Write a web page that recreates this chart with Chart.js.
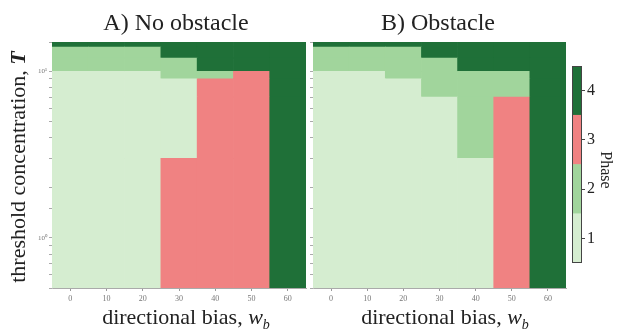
<!DOCTYPE html>
<html>
<head>
<meta charset="utf-8">
<script src="https://cdn.jsdelivr.net/npm/chart.js@4.4.1/dist/chart.umd.min.js"></script>
<style>
  html, body { margin:0; padding:0; background:#fff; }
  body { width:618px; height:334px; position:relative; overflow:hidden; font-family:"Liberation Serif", serif; color:#222; }
  canvas { position:absolute; top:0; }
  .txt { position:absolute; white-space:nowrap; line-height:1; }
  .title { font-size:24px; top:10px; transform:translateX(-50%); }
  .xlab { font-size:22px; top:306px; transform:translateX(-50%); }
  .xlab sub { font-size:14px; vertical-align:-5px; line-height:0; }
</style>
</head>
<body>
<canvas id="chartA" width="310" height="334" style="left:0px"></canvas>
<canvas id="chartB" width="270" height="334" style="left:300px"></canvas>
<canvas id="chartC" width="46" height="334" style="left:572px"></canvas>

<div class="txt title" style="left:176px">A) No obstacle</div>
<div class="txt title" style="left:438px">B) Obstacle</div>
<div class="txt xlab" style="left:186px">directional bias, <i>w</i><sub><i>b</i></sub></div>
<div class="txt xlab" style="left:445px">directional bias, <i>w</i><sub><i>b</i></sub></div>
<div class="txt" style="font-size:22px; width:300px; text-align:center; left:-132px; top:156px; transform:rotate(-90deg);">threshold concentration, <b><i>T</i></b></div>
<div class="txt" style="font-size:16px; font-weight:normal; color:#222; width:60px; text-align:center; left:576px; top:162px; transform:rotate(90deg);">Phase</div>

<script>
// ---- data ----
const xLabels = ['0', '10', '20', '30', '40', '50', '60'];          // directional bias w_b
const tEdges = [0.5, 3, 7, 9, 10, 12, 14, 15];                      // threshold concentration cell edges
// phase per cell, rows from bottom (T low) to top (T high), columns = xLabels
const phaseA = [
  [1, 1, 1, 3, 3, 3, 4],
  [1, 1, 1, 1, 3, 3, 4],
  [1, 1, 1, 1, 3, 3, 4],
  [1, 1, 1, 2, 2, 3, 4],
  [2, 2, 2, 2, 4, 4, 4],
  [2, 2, 2, 4, 4, 4, 4],
  [4, 4, 4, 4, 4, 4, 4]
];
const phaseB = [
  [1, 1, 1, 1, 1, 3, 4],
  [1, 1, 1, 1, 2, 3, 4],
  [1, 1, 1, 2, 2, 2, 4],
  [1, 1, 2, 2, 2, 2, 4],
  [2, 2, 2, 2, 4, 4, 4],
  [2, 2, 2, 4, 4, 4, 4],
  [4, 4, 4, 4, 4, 4, 4]
];
const phaseTicks = [1, 2, 3, 4];
const phaseEdges = [0.5, 1.5, 2.5, 3.5, 4.5];
const yTickLabels = { 1: '10\u2070', 10: '10\u00B9' };

const phaseColors = { 1: '#d5edd0', 2: '#a1d59c', 3: '#f08282', 4: '#1f7038' };

function heatDatasets(phases) {
  return phases.map((row, r) => ({
    data: row.map(() => [tEdges[r], tEdges[r + 1]]),
    backgroundColor: row.map(p => phaseColors[p]),
    borderWidth: 0,
    barPercentage: 1,
    categoryPercentage: 1,
    grouped: false
  }));
}

function yLabel(v) {
  for (const k in yTickLabels) { if (Math.abs(v - Number(k)) < 1e-9) return yTickLabels[k]; }
  return '';
}

function heatConfig(phases, axisWidth, showYLabels) {
  return {
    type: 'bar',
    data: { labels: xLabels, datasets: heatDatasets(phases) },
    options: {
      responsive: false,
      animation: false,
      events: [],
      layout: { padding: { top: 42, right: 4, left: 0, bottom: 0 } },
      plugins: { legend: { display: false }, tooltip: { enabled: false }, title: { display: false } },
      scales: {
        x: {
          type: 'category',
          offset: true,
          grid: { display: true, drawOnChartArea: false, drawTicks: true, tickLength: 3, color: '#999', offset: false },
          border: { display: true, color: '#aaa', width: 1 },
          ticks: { font: { family: 'Liberation Serif', size: 8 }, color: '#777', padding: 3, maxRotation: 0, autoSkip: false },
          afterFit(s) { s.height = 46; }
        },
        y: {
          type: 'logarithmic',
          min: 0.5,
          max: 15,
          grid: { display: true, drawOnChartArea: false, drawTicks: true, tickLength: 3, color: '#aaa' },
          border: { display: true, color: '#bbb', width: 1 },
          ticks: {
            autoSkip: false,
            font: { family: 'Liberation Serif', size: 7 },
            color: '#777',
            padding: 2,
            callback: (v) => showYLabels ? yLabel(v) : ''
          },
          afterFit(s) { s.width = axisWidth; }
        }
      }
    }
  };
}

new Chart(document.getElementById('chartA'), heatConfig(phaseA, 52, true));
new Chart(document.getElementById('chartB'), heatConfig(phaseB, 13, false));

const outline = {
  id: 'outline',
  afterDatasetsDraw(chart) {
    const a = chart.chartArea, ctx = chart.ctx;
    ctx.save();
    ctx.strokeStyle = '#444';
    ctx.lineWidth = 1;
    ctx.strokeRect(Math.round(a.left) + 0.5, Math.round(a.top) + 0.5, Math.round(a.right - a.left) - 1, Math.round(a.bottom - a.top) - 1);
    ctx.restore();
  }
};

new Chart(document.getElementById('chartC'), {
  type: 'bar',
  data: {
    labels: [''],
    datasets: phaseTicks.map((p, i) => ({
      data: [[phaseEdges[i], phaseEdges[i + 1]]],
      backgroundColor: phaseColors[p],
      borderWidth: 0,
      barPercentage: 1,
      categoryPercentage: 1,
      grouped: false
    }))
  },
  options: {
    responsive: false,
    animation: false,
    events: [],
    layout: { padding: { top: 66, bottom: 71, left: 0, right: 0 } },
    plugins: { legend: { display: false }, tooltip: { enabled: false } },
    scales: {
      x: { display: false, offset: true },
      y: {
        position: 'right',
        min: phaseEdges[0],
        max: phaseEdges[phaseEdges.length - 1],
        afterBuildTicks(s) { s.ticks = phaseTicks.map(v => ({ value: v })); },
        grid: { display: true, drawOnChartArea: false, drawTicks: true, tickLength: 3, color: '#444' },
        border: { display: false },
        ticks: { font: { family: 'Liberation Serif', size: 16 }, color: '#222', padding: 2, callback: v => String(v) },
        afterFit(s) { s.width = 36; }
      }
    }
  },
  plugins: [outline]
});
</script>
</body>
</html>
